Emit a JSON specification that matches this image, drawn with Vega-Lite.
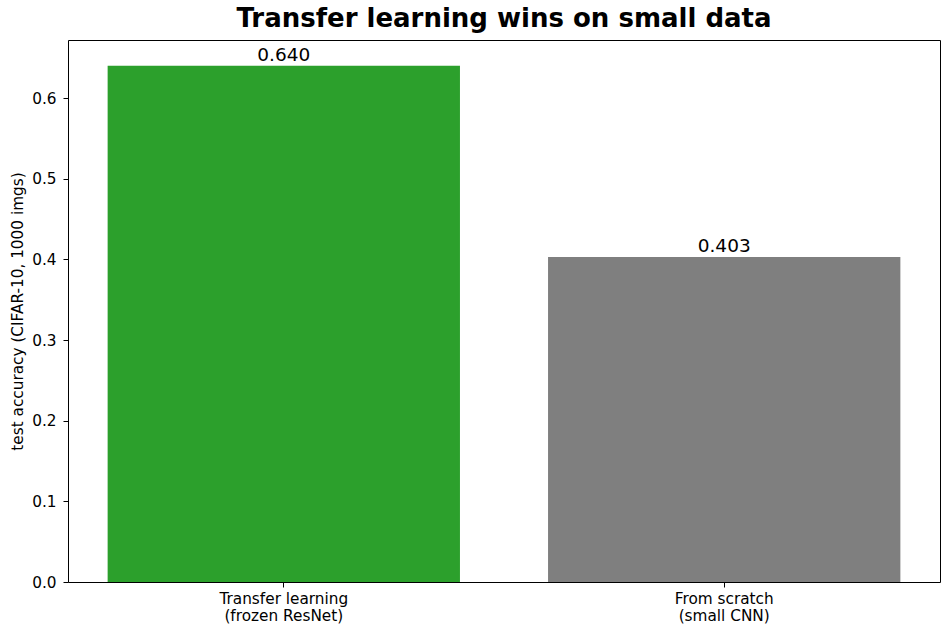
{
  "$schema": "https://vega.github.io/schema/vega-lite/v6.json",
  "width": 872,
  "height": 542,
  "autosize": "none",
  "padding": {"left": 68, "top": 40, "right": 11, "bottom": 54},
  "background": "white",
  "config": {
    "font": "DejaVu Sans",
    "view": {"stroke": "black", "strokeWidth": 1},
    "axis": {"grid": false, "domain": false, "tickColor": "black", "tickSize": 5, "labelColor": "black", "titleColor": "black", "labelFontSize": 15.3}
  },
  "title": {"text": "Transfer learning wins on small data", "fontSize": 26, "fontWeight": "bold", "font": "DejaVu Sans", "offset": 8, "color": "black"},
  "data": {"values": [
    {"method": "Transfer learning|(frozen ResNet)", "accuracy": 0.640, "color": "#2ca02c"},
    {"method": "From scratch|(small CNN)", "accuracy": 0.403, "color": "#7f7f7f"}
  ]},
  "encoding": {
    "x": {"field": "method", "type": "nominal", "sort": null,
      "scale": {"paddingInner": 0.2, "paddingOuter": 0.09},
      "axis": {"title": null, "labelAngle": 0, "labelExpr": "split(datum.label, '|')", "labelLineHeight": 17, "labelPadding": 4}},
    "y": {"field": "accuracy", "type": "quantitative",
      "scale": {"domain": [0, 0.672], "nice": false, "zero": true},
      "axis": {"title": "test accuracy (CIFAR-10, 1000 imgs)", "titleFontSize": 15.3, "titleFontWeight": "normal", "values": [0, 0.1, 0.2, 0.3, 0.4, 0.5, 0.6], "format": ".1f", "labelPadding": 7, "titlePadding": 6}}
  },
  "layer": [
    {"mark": {"type": "bar"}, "encoding": {"color": {"field": "color", "type": "nominal", "scale": null}}},
    {"mark": {"type": "text", "baseline": "bottom", "fontSize": 18.5, "dy": -1, "color": "black"},
     "encoding": {"text": {"field": "accuracy", "type": "quantitative", "format": ".3f"}}}
  ]
}
